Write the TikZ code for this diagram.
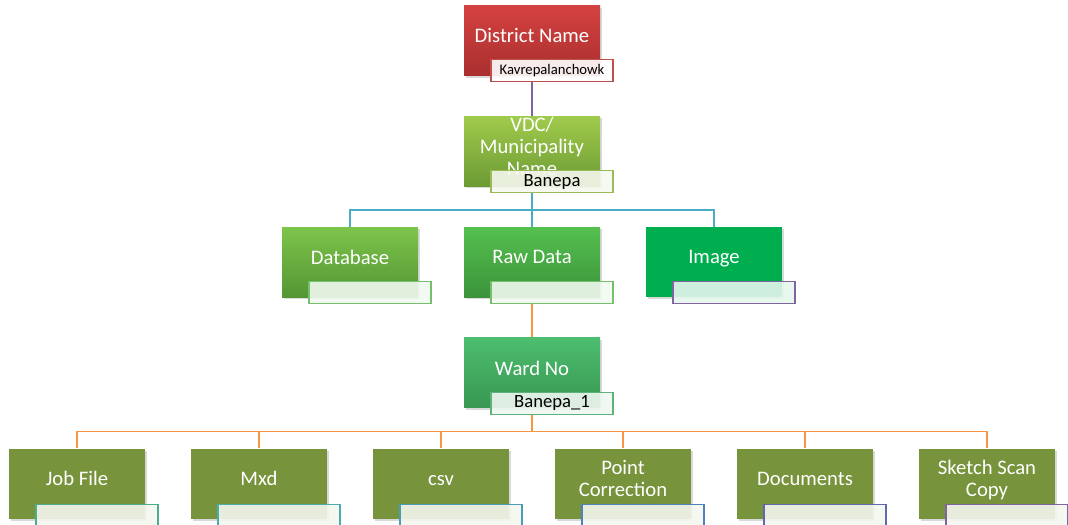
\documentclass[tikz,border=0pt]{standalone}
\usepackage{fontspec}
\setmainfont{Carlito}
\usetikzlibrary{positioning,shadows,backgrounds,calc}

\definecolor{distTop}{HTML}{D44241}
\definecolor{distBot}{HTML}{A92F2E}
\definecolor{vdcTop}{HTML}{A0CB4C}
\definecolor{vdcBot}{HTML}{6C9A34}
\definecolor{dbTop}{HTML}{7DC44B}
\definecolor{dbBot}{HTML}{549634}
\definecolor{rawTop}{HTML}{55C04F}
\definecolor{rawBot}{HTML}{3B933A}
\definecolor{imgGreen}{HTML}{00AD4F}
\definecolor{wardTop}{HTML}{4DBD6E}
\definecolor{wardBot}{HTML}{389752}
\definecolor{olive}{HTML}{77933C}
\definecolor{lineRed}{HTML}{C0504D}
\definecolor{lineLime}{HTML}{9BBB59}
\definecolor{lineGreen}{HTML}{74C06C}
\definecolor{lineWard}{HTML}{5CB27A}
\definecolor{lineTeal}{HTML}{4BAE8E}
\definecolor{lineAqua}{HTML}{4BACB0}
\definecolor{lineBlue}{HTML}{4A9CB9}
\definecolor{lineNavy}{HTML}{4F81BD}
\definecolor{lineIndigo}{HTML}{5F68B0}
\definecolor{linePurple}{HTML}{8064A2}
\definecolor{connBlue}{HTML}{4BACC6}
\definecolor{connOrange}{HTML}{F79646}

\begin{document}
\begin{tikzpicture}[x=0.75pt, y=-0.75pt, node distance=30.2pt and 34.1pt]
	\tikzset{
		mynode/.style={rectangle, minimum width=102pt, minimum height=52.5pt, inner sep=0pt, text=white, align=center, text depth=7.5pt, font=\fontsize{15.5}{16.5}\selectfont, drop shadow={shadow xshift=1.5pt, shadow yshift=-1.5pt, opacity=0.3}},
		mylabel/.style={rectangle, minimum width=91.5pt, minimum height=16.5pt, inner sep=0pt, line width=0.9pt, fill opacity=0.9, text opacity=1, font=\fontsize{14}{15}\selectfont},
		myline/.style={line width=1.1pt}
	}
	\useasboundingbox (0,0) rectangle (1068,525);

	\node[mynode, top color=distTop, bottom color=distBot] (district) at (532,40.5) {District Name};
	\node[mylabel, draw=lineRed, fill=white, font=\fontsize{11}{12}\selectfont] (dlab) at ([xshift=15pt, yshift=3.75pt]district.south) {Kavrepalanchowk};

	\node[mynode, top color=vdcTop, bottom color=vdcBot, below=of district] (vdc) {VDC/\\Municipality\\Name};
	\node[mylabel, draw=lineLime, fill=lineLime!10!white] (vlab) at ([xshift=15pt, yshift=3.75pt]vdc.south) {Banepa};

	\node[mynode, top color=rawTop, bottom color=rawBot, below=of vdc] (raw) {Raw Data};
	\node[mylabel, draw=lineGreen, fill=lineGreen!10!white] (rlab) at ([xshift=15pt, yshift=3.75pt]raw.south) {};
	\node[mynode, top color=dbTop, bottom color=dbBot, left=of raw] (database) {Database};
	\node[mylabel, draw=lineGreen, fill=lineGreen!10!white] (dblab) at ([xshift=15pt, yshift=3.75pt]database.south) {};
	\node[mynode, fill=imgGreen, right=of raw] (image) {Image};
	\node[mylabel, draw=linePurple, fill=imgGreen!10!white] (ilab) at ([xshift=15pt, yshift=3.75pt]image.south) {};

	\node[mynode, top color=wardTop, bottom color=wardBot, below=of raw] (ward) {Ward No};
	\node[mylabel, draw=lineWard, fill=lineWard!10!white] (wlab) at ([xshift=15pt, yshift=3.75pt]ward.south) {Banepa\_1};

	\node[mynode, fill=olive, below=of ward, xshift=-68.25pt, text height=10.5pt] (csv) {csv};
	\node[mynode, fill=olive, left=of csv] (mxd) {Mxd};
	\node[mynode, fill=olive, left=of mxd] (jobfile) {Job File};
	\node[mynode, fill=olive, right=of csv] (pointcorr) {Point\\Correction};
	\node[mynode, fill=olive, right=of pointcorr] (documents) {Documents};
	\node[mynode, fill=olive, right=of documents] (sketch) {Sketch Scan\\Copy};
	\node[mylabel, draw=lineTeal, fill=olive!8!white] (jlab) at ([xshift=15pt, yshift=2.5pt]jobfile.south) {};
	\node[mylabel, draw=lineAqua, fill=olive!8!white] (mlab) at ([xshift=15pt, yshift=2.5pt]mxd.south) {};
	\node[mylabel, draw=lineBlue, fill=olive!8!white] (clab) at ([xshift=15pt, yshift=2.5pt]csv.south) {};
	\node[mylabel, draw=lineNavy, fill=olive!8!white] (plab) at ([xshift=15pt, yshift=2.5pt]pointcorr.south) {};
	\node[mylabel, draw=lineIndigo, fill=olive!8!white] (doclab) at ([xshift=15pt, yshift=2.5pt]documents.south) {};
	\node[mylabel, draw=linePurple, fill=olive!8!white] (slab) at ([xshift=15pt, yshift=2.5pt]sketch.south) {};

	% connectors
	\begin{scope}[on background layer]
		\draw[myline, linePurple] (dlab.south -| district.south) -- (vdc.north);

		\coordinate (vjoin) at ($(vlab.south -| vdc.south)!0.5!(raw.north)$);
		\draw[myline, connBlue] (vlab.south -| vdc.south) -- (raw.north);
		\draw[myline, connBlue] (vjoin) -| (database.north);
		\draw[myline, connBlue] (vjoin) -| (image.north);

		\draw[myline, connOrange] (rlab.south -| raw.south) -- (ward.north);
		\coordinate (wjoin) at ($(wlab.south -| ward.south)!0.5!(csv.north -| ward.south)$);
		\draw[myline, connOrange] (wlab.south -| ward.south) -- (wjoin);
		\draw[myline, connOrange] (wjoin) -| (jobfile.north);
		\draw[myline, connOrange] (wjoin) -| (mxd.north);
		\draw[myline, connOrange] (wjoin) -| (csv.north);
		\draw[myline, connOrange] (wjoin) -| (pointcorr.north);
		\draw[myline, connOrange] (wjoin) -| (documents.north);
		\draw[myline, connOrange] (wjoin) -| (sketch.north);
	\end{scope}
\end{tikzpicture}
\end{document}
